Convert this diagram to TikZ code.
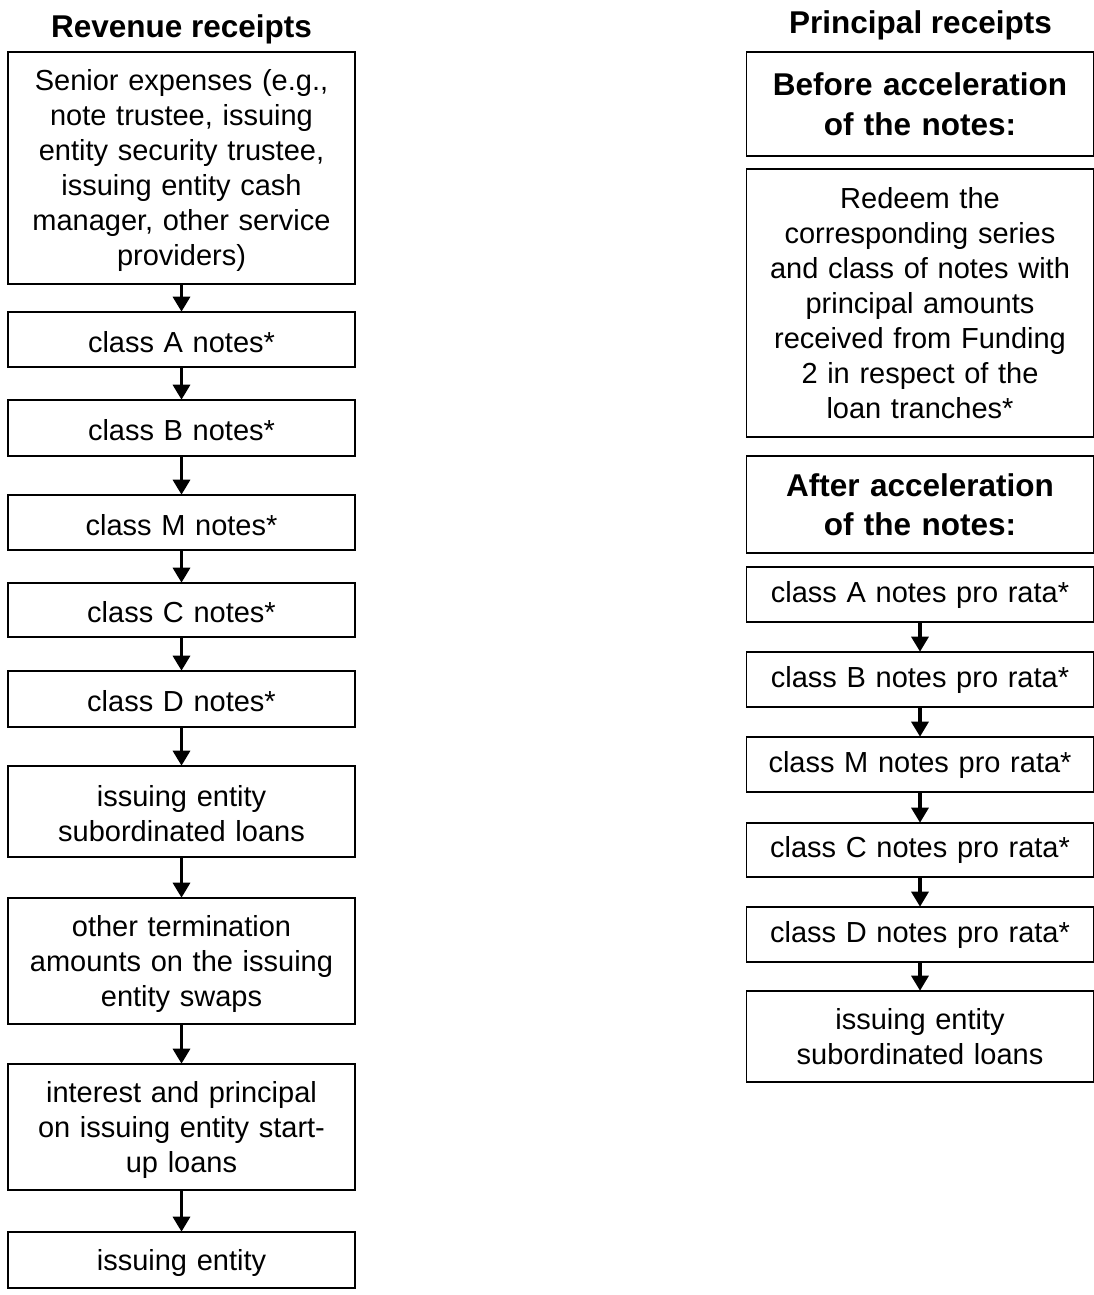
\documentclass[tikz,border=0pt]{standalone}
\usepackage{fontspec}
\setmainfont{Liberation Sans}
\usetikzlibrary{arrows.meta}
\begin{document}
\begin{tikzpicture}[x=1pt,y=-1pt,
  box/.style={draw=black, line width=1.6pt, align=center, inner sep=0pt,
    minimum width=347pt, text width=340pt,
    font=\fontsize{29}{35}\selectfont},
  lbox/.style={box, execute at begin node={\rule{0pt}{26pt}}},
  hbox/.style={box, font=\bfseries\fontsize{31.5}{39.5}\selectfont},
  ttl/.style={inner sep=0pt, font=\bfseries\fontsize{31.5}{39.5}\selectfont},
  arr/.style={line width=3.2pt, -{Triangle[width=17pt,length=15pt]}, shorten >=-0.5pt}
]
\useasboundingbox (0,0) rectangle (1094,1295);

% ---------- left column ----------
\node[ttl] (lt) at (181.5,29) {Revenue receipts};
\node[lbox, minimum height=232pt] (s) at (181.5,168) {Senior expenses (e.g.,\\ note trustee, issuing\\ entity security trustee,\\ issuing entity cash\\ manager, other service\\ providers)};
\node[lbox, minimum height=55pt] (a) at (181.5,339.5) {class A notes*};
\node[lbox, minimum height=56pt] (b) at (181.5,428) {class B notes*};
\node[lbox, minimum height=55pt] (m) at (181.5,522.5) {class M notes*};
\node[lbox, minimum height=54pt] (c) at (181.5,610) {class C notes*};
\node[lbox, minimum height=56pt] (d) at (181.5,699) {class D notes*};
\node[lbox, minimum height=91pt] (sub) at (181.5,811.5) {issuing entity\\ subordinated loans};
\node[lbox, minimum height=126pt] (term) at (181.5,961) {other termination\\ amounts on the issuing\\ entity swaps};
\node[lbox, minimum height=126pt] (int) at (181.5,1127) {interest and principal\\ on issuing entity start-\\ up loans};
\node[lbox, minimum height=56pt] (ie) at (181.5,1260) {issuing entity};

\draw[arr] (s.south) -- (a.north);
\draw[arr] (a.south) -- (b.north);
\draw[arr] (b.south) -- (m.north);
\draw[arr] (m.south) -- (c.north);
\draw[arr] (c.south) -- (d.north);
\draw[arr] (d.south) -- (sub.north);
\draw[arr] (sub.south) -- (term.north);
\draw[arr] (term.south) -- (int.north);
\draw[arr] (int.south) -- (ie.north);

% ---------- right column ----------
\node[ttl] (rt) at (920.5,25) {Principal receipts};
\node[hbox, minimum height=104pt] (bef) at (920,104) {Before acceleration\\ of the notes:};
\node[box, minimum height=268pt] (red) at (920,303) {Redeem the\\ corresponding series\\ and class of notes with\\ principal amounts\\ received from Funding\\ 2 in respect of the\\ loan tranches*};
\node[hbox, minimum height=97pt] (aft) at (920,504.5) {After acceleration\\ of the notes:};
\node[box, minimum height=55pt] (pa) at (920,594.5) {class A notes pro rata*};
\node[box, minimum height=55pt] (pb) at (920,679.5) {class B notes pro rata*};
\node[box, minimum height=55pt] (pm) at (920,764.5) {class M notes pro rata*};
\node[box, minimum height=54pt] (pc) at (920,850) {class C notes pro rata*};
\node[box, minimum height=55pt] (pd) at (920,934.5) {class D notes pro rata*};
\node[box, minimum height=91pt] (psub) at (920,1036.5) {issuing entity\\ subordinated loans};

\draw[arr] (pa.south) -- (pb.north);
\draw[arr] (pb.south) -- (pm.north);
\draw[arr] (pm.south) -- (pc.north);
\draw[arr] (pc.south) -- (pd.north);
\draw[arr] (pd.south) -- (psub.north);
\end{tikzpicture}
\end{document}
